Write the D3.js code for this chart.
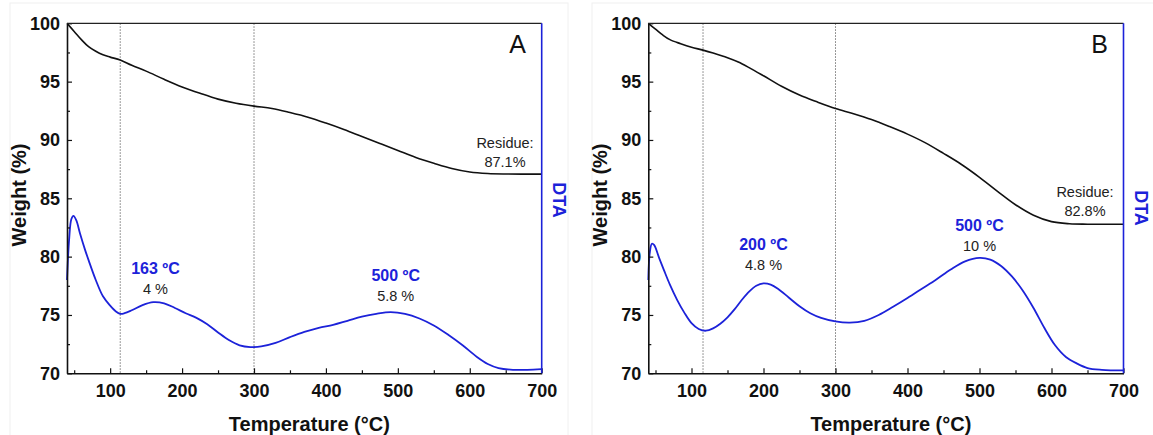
<!DOCTYPE html>
<html>
<head>
<meta charset="utf-8">
<script src="https://cdn.jsdelivr.net/npm/d3@7"></script>
<style>
  body { margin: 0; background: #fff; }
  svg text { font-family: "Liberation Sans", Arial, sans-serif; }
</style>
</head>
<body>
<svg id="chart" width="1153" height="435"></svg>
<script>
// TGA / DTA curves, two samples (A and B)
// values; DTA is plotted against the same 70-100 frame

// sample A - weight loss
var tempA = [40, 50, 60, 70, 80, 90, 100, 114, 130, 150, 175, 200, 225, 250, 275, 300, 325, 350, 375, 400, 425, 450, 475, 500, 525, 550, 575, 600, 625, 650, 700];
var weightA = [100, 99.3, 98.6, 98.0, 97.6, 97.3, 97.1, 96.85, 96.4, 95.9, 95.2, 94.55, 94.0, 93.5, 93.15, 92.9, 92.7, 92.35, 91.95, 91.45, 90.9, 90.3, 89.7, 89.1, 88.5, 88.0, 87.55, 87.25, 87.12, 87.08, 87.07];

// sample A - DTA
var dtaTempA = [40, 43, 46, 49, 53, 58, 65, 70, 80, 90, 100, 108, 114, 120, 130, 145, 160, 175, 190, 205, 220, 235, 250, 265, 280, 295, 310, 330, 350, 370, 390, 410, 430, 450, 470, 490, 510, 530, 550, 570, 590, 610, 625, 640, 660, 680, 700];
var dtaA = [78.0, 81.5, 83.2, 83.5, 83.1, 82.0, 80.6, 79.7, 78.0, 76.6, 75.8, 75.3, 75.1, 75.15, 75.4, 75.85, 76.1, 76.0, 75.6, 75.15, 74.75, 74.2, 73.5, 72.85, 72.4, 72.25, 72.3, 72.6, 73.1, 73.55, 73.9, 74.15, 74.5, 74.85, 75.1, 75.25, 75.1, 74.7, 74.1, 73.3, 72.4, 71.4, 70.8, 70.45, 70.3, 70.3, 70.35];

// sample B - weight loss
var tempB = [40, 50, 60, 70, 85, 100, 116, 130, 150, 165, 180, 200, 225, 250, 275, 300, 325, 350, 375, 400, 425, 450, 475, 500, 525, 550, 575, 600, 625, 650, 700];
var weightB = [100, 99.5, 99.0, 98.6, 98.25, 97.95, 97.7, 97.45, 97.05, 96.68, 96.2, 95.5, 94.6, 93.85, 93.25, 92.7, 92.25, 91.75, 91.15, 90.5, 89.75, 88.85, 87.9, 86.8, 85.6, 84.45, 83.55, 83.0, 82.82, 82.78, 82.77];

// sample B - DTA
var dtaTempB = [40, 42, 45, 48, 55, 62, 70, 80, 90, 100, 110, 120, 130, 140, 150, 160, 170, 180, 190, 200, 210, 220, 235, 250, 265, 280, 300, 320, 340, 360, 380, 400, 420, 440, 460, 480, 500, 515, 530, 545, 560, 575, 590, 605, 620, 635, 650, 670, 700];
var dtaB = [78.0, 80.3, 81.1, 81.0, 79.9, 78.8, 77.6, 76.3, 75.2, 74.3, 73.8, 73.65, 73.85, 74.25, 74.8, 75.5, 76.3, 77.0, 77.5, 77.7, 77.6, 77.25, 76.5, 75.75, 75.15, 74.75, 74.45, 74.35, 74.5, 75.0, 75.7, 76.45, 77.25, 78.05, 78.9, 79.6, 79.9, 79.75, 79.2, 78.3, 77.1, 75.6, 73.9, 72.4, 71.4, 70.85, 70.45, 70.3, 70.25];

var xTicks = [100, 200, 300, 400, 500, 600, 700];
var xMinor = [50, 150, 250, 350, 450, 550, 650];
var yTicks = [70, 75, 80, 85, 90, 95, 100];
var yMinor = [72.5, 77.5, 82.5, 87.5, 92.5, 97.5];

var blue = "#1c22d9";
var svg = d3.select("#chart");

function zip(xs, ys) {
  return xs.map(function (t, i) { return {t: t, v: ys[i]}; });
}

function drawPanel(p) {
  var x = d3.scaleLinear().domain([40, 700]).range([p.left, p.right]);
  var y = d3.scaleLinear().domain([70, 100]).range([373.3, 23.3]);

  // faint outer frame
  svg.append("rect")
    .attr("x", p.frame[0]).attr("y", 3)
    .attr("width", p.frame[1] - p.frame[0]).attr("height", 440)
    .attr("fill", "none").attr("stroke", "#f0f0f0");

  var g = svg.append("g");

  // dotted markers
  p.markers.forEach(function (m) {
    g.append("line")
      .attr("x1", x(m)).attr("x2", x(m))
      .attr("y1", y(100)).attr("y2", y(70))
      .attr("stroke", "#777").attr("stroke-width", 1)
      .attr("stroke-dasharray", "1.5,1.5");
  });

  var line = d3.line()
    .x(function (d) { return x(d.t); })
    .y(function (d) { return y(d.v); })
    .curve(d3.curveCatmullRom.alpha(0.5));

  g.append("path").datum(zip(p.dtaT, p.dta))
    .attr("d", line).attr("fill", "none")
    .attr("stroke", blue).attr("stroke-width", 1.8);

  g.append("path").datum(zip(p.tempT, p.weight))
    .attr("d", line).attr("fill", "none")
    .attr("stroke", "#111").attr("stroke-width", 1.6);

  // axes
  var xAxis = g.append("g").attr("transform", "translate(0," + y(70) + ")")
    .call(d3.axisBottom(x).tickValues(xTicks).tickSizeInner(-5).tickSizeOuter(0).tickPadding(11));
  g.append("g").attr("transform", "translate(0," + y(70) + ")")
    .call(d3.axisBottom(x).tickValues(xMinor).tickSizeInner(-3).tickSizeOuter(0).tickFormat(""))
    .select(".domain").remove();

  var yAxis = g.append("g").attr("transform", "translate(" + p.left + ",0)")
    .call(d3.axisLeft(y).tickValues(yTicks).tickSizeInner(-5).tickSizeOuter(0).tickPadding(7));
  g.append("g").attr("transform", "translate(" + p.left + ",0)")
    .call(d3.axisLeft(y).tickValues(yMinor).tickSizeInner(-3).tickSizeOuter(0).tickFormat(""))
    .select(".domain").remove();

  [xAxis, yAxis].forEach(function (a) {
    a.select(".domain").attr("stroke", "#111").attr("stroke-width", 1.6);
    a.selectAll("text").attr("font-size", 18).attr("font-weight", "bold").attr("fill", "#111");
  });
  g.selectAll(".tick line").attr("stroke", "#111").attr("stroke-width", 1.2);

  // top border and blue DTA axis
  g.append("line").attr("x1", p.left).attr("x2", p.right)
    .attr("y1", y(100)).attr("y2", y(100))
    .attr("stroke", "#222").attr("stroke-width", 1.3);
  g.append("line").attr("x1", p.right).attr("x2", p.right)
    .attr("y1", y(100)).attr("y2", y(70))
    .attr("stroke", blue).attr("stroke-width", 1.6);

  // axis titles
  g.append("text")
    .attr("transform", "translate(" + (p.left - 41) + "," + 195 + ") rotate(-90)")
    .attr("text-anchor", "middle").attr("font-size", 20).attr("font-weight", "bold")
    .attr("fill", "#111").text("Weight (%)");
  g.append("text")
    .attr("x", (p.left + p.right) / 2 + 5).attr("y", 431)
    .attr("text-anchor", "middle").attr("font-size", 20).attr("font-weight", "bold")
    .attr("fill", "#111").text("Temperature (°C)");
  g.append("text")
    .attr("transform", "translate(" + (p.right + 11) + "," + p.dtaY + ") rotate(90)")
    .attr("text-anchor", "middle").attr("font-size", 18).attr("font-weight", "bold")
    .attr("fill", blue).text("DTA");

  // panel letter
  g.append("text").attr("x", p.right - 24).attr("y", 53)
    .attr("text-anchor", "middle").attr("font-size", 25)
    .attr("fill", "#111").text(p.letter);

  // residue note
  g.append("text").attr("x", p.residue[0]).attr("y", p.residue[1])
    .attr("text-anchor", "middle").attr("font-size", 14.5).attr("fill", "#222")
    .text("Residue:");
  g.append("text").attr("x", p.residue[0]).attr("y", p.residue[1] + 19)
    .attr("text-anchor", "middle").attr("font-size", 14.5).attr("fill", "#222")
    .text(p.residueText);

  // peak notes
  p.peaks.forEach(function (pk) {
    g.append("text").attr("x", x(pk.t)).attr("y", y(pk.v))
      .attr("text-anchor", "middle").attr("font-size", 16).attr("font-weight", "bold")
      .attr("fill", blue).text(pk.label);
    g.append("text").attr("x", x(pk.t)).attr("y", y(pk.v) + 20)
      .attr("text-anchor", "middle").attr("font-size", 14.5)
      .attr("fill", "#222").text(pk.loss);
  });
}

drawPanel({
  left: 67, right: 541.7, frame: [10, 568], letter: "A",
  tempT: tempA, weight: weightA, dtaT: dtaTempA, dta: dtaA,
  markers: [114, 300], dtaY: 200,
  residue: [505, 148], residueText: "87.1%",
  peaks: [{t: 163, v: 78.5, label: "163 ºC", loss: "4 %"},
          {t: 497, v: 77.9, label: "500 ºC", loss: "5.8 %"}]
});

drawPanel({
  left: 648.3, right: 1123.5, frame: [592, 1160], letter: "B",
  tempT: tempB, weight: weightB, dtaT: dtaTempB, dta: dtaB,
  markers: [116, 300], dtaY: 208,
  residue: [1085, 197], residueText: "82.8%",
  peaks: [{t: 200, v: 80.6, label: "200 ºC", loss: "4.8 %"},
          {t: 500, v: 82.2, label: "500 ºC", loss: "10 %"}]
});
</script>
</body>
</html>
